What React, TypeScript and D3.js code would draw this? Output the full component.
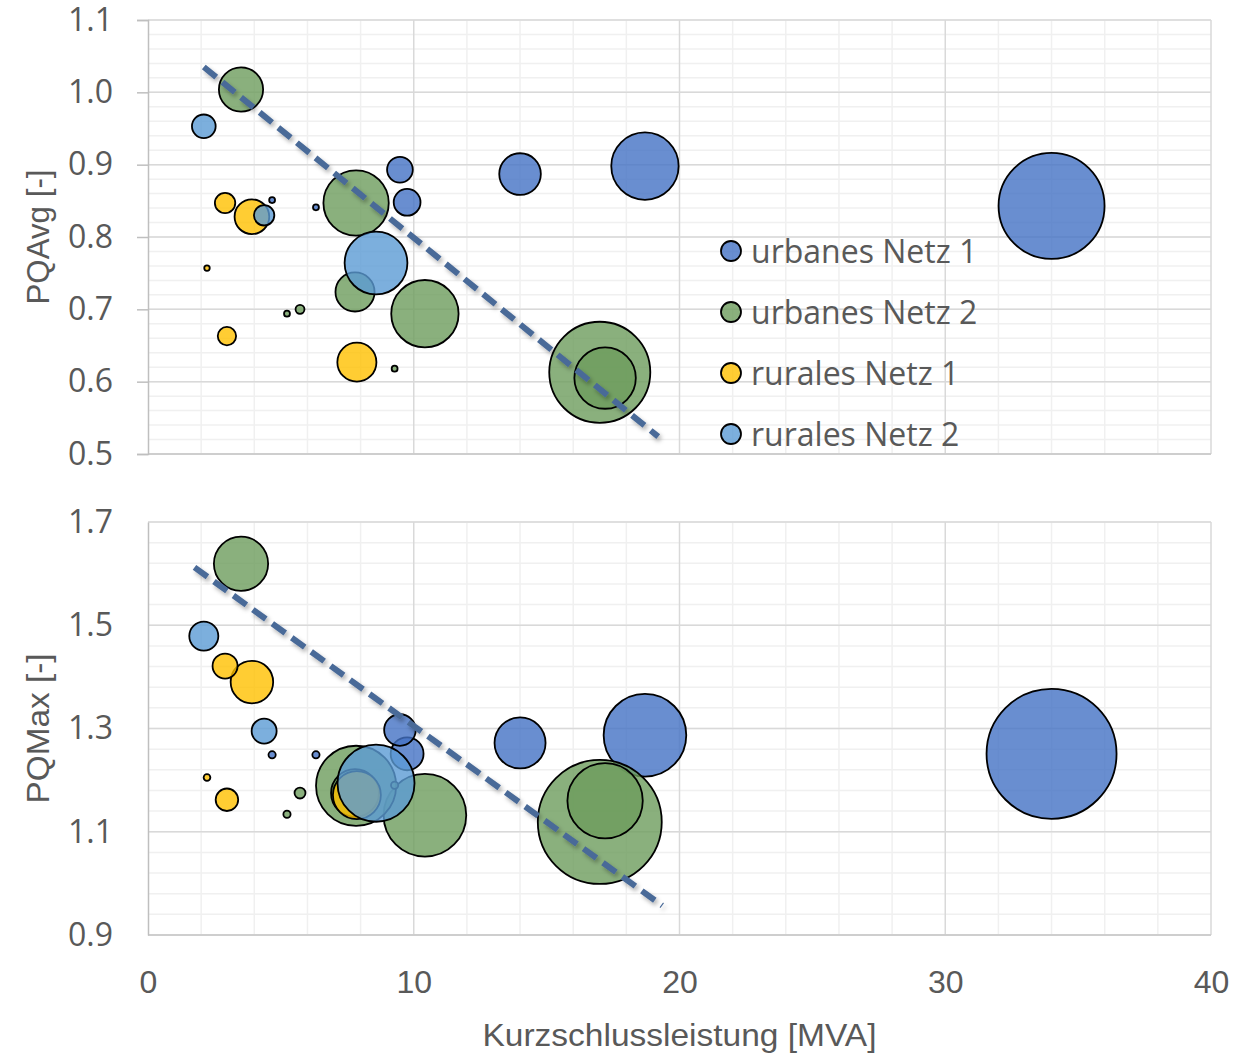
import React, { useEffect, useRef } from 'react';
import * as d3 from 'd3';

// Kurzschlussleistung [MVA] pro Messpunkt, Blasengröße relativ (max = 100)
const urban1X = [34.0, 18.7, 14.0, 9.48, 9.75, 4.67, 6.32];
const urban1Size = [100, 40.4, 15.4, 5.9, 6.4, 0.31, 0.31];
const urban1Avg = [0.843, 0.898, 0.887, 0.893, 0.848, 0.851, 0.841];
const urban1Max = [1.251, 1.287, 1.272, 1.297, 1.251, 1.249, 1.249];

const urban2X = [3.5, 7.83, 7.79, 10.42, 17.0, 17.2, 5.72, 5.23, 9.28];
const urban2Size = [17.4, 38, 13.6, 40.4, 90.9, 33.6, 0.71, 0.31, 0.31];
const urban2Avg = [1.004, 0.847, 0.724, 0.694, 0.613, 0.605, 0.700, 0.694, 0.618];
const urban2Max = [1.619, 1.189, 1.175, 1.132, 1.119, 1.160, 1.175, 1.134, 1.19];

const rural1X = [2.9, 3.91, 2.97, 7.86, 2.22];
const rural1Size = [3.7, 10.7, 3.0, 13.6, 0.27];
const rural1Avg = [0.847, 0.828, 0.663, 0.627, 0.757];
const rural1Max = [1.421, 1.390, 1.162, 1.171, 1.205];

const rural2X = [2.1, 4.37, 8.58];
const rural2Size = [5.0, 3.7, 35.1];
const rural2Avg = [0.953, 0.830, 0.764];
const rural2Max = [1.479, 1.295, 1.194];

const seriesNames = ['urbanes Netz 1', 'urbanes Netz 2', 'rurales Netz 1', 'rurales Netz 2'];

// lineare Trendlinien (Anfang, Ende)
const trendAvg = [[2.1, 1.035], [19.2, 0.524]];
const trendMax = [[1.75, 1.612], [19.35, 0.957]];

const xTicks = [0, 10, 20, 30, 40];
const avgTicks = [0.5, 0.6, 0.7, 0.8, 0.9, 1.0, 1.1];
const maxTicks = [0.9, 1.1, 1.3, 1.5, 1.7];

const colors = ['#4472C4', '#6D9C5C', '#FFC000', '#5B9BD5'];
const textColor = '#595959';

const W = 1240;
const H = 1055;

const App = () => {
    const ref = useRef(null);

    useEffect(() => {
        const svg = d3.select(ref.current);
        svg.selectAll('*').remove();

        const x = d3.scaleLinear().domain([0, 40]).range([148, 1211]);

        const defs = svg.append('defs');
        defs.append('filter')
            .attr('id', 'shadow')
            .attr('filterUnits', 'userSpaceOnUse')
            .attr('x', 0).attr('y', 0).attr('width', W).attr('height', H)
            .append('feDropShadow')
            .attr('dx', 2).attr('dy', 3).attr('stdDeviation', 2)
            .attr('flood-color', '#000').attr('flood-opacity', 0.3);

        const allSeries = [
            { x: urban1X, size: urban1Size, avg: urban1Avg, max: urban1Max },
            { x: urban2X, size: urban2Size, avg: urban2Avg, max: urban2Max },
            { x: rural1X, size: rural1Size, avg: rural1Avg, max: rural1Max },
            { x: rural2X, size: rural2Size, avg: rural2Avg, max: rural2Max },
        ];

        const panels = [
            { key: 'avg', top: 20, bottom: 454, domain: [0.5, 1.1], ticks: avgTicks, minor: 0.02, maxR: 53, trend: trendAvg, title: 'PQAvg [-]', titleLen: 135, tickMarks: true },
            { key: 'max', top: 522, bottom: 935, domain: [0.9, 1.7], ticks: maxTicks, minor: 0.04, maxR: 65, trend: trendMax, title: 'PQMax [-]', titleLen: 150, tickMarks: false },
        ];

        panels.forEach((p, pi) => {
            const y = d3.scaleLinear().domain(p.domain).range([p.bottom, p.top]);
            const r = d3.scaleSqrt().domain([0, 100]).range([0, p.maxR]);
            const g = svg.append('g');

            // Nebengitter
            const nY = Math.round((p.domain[1] - p.domain[0]) / p.minor);
            const minorY = d3.range(nY + 1).map(i => p.domain[0] + i * p.minor);
            const minorX = d3.range(21).map(i => i * 2).filter(v => v % 10 !== 0);
            g.append('g').selectAll('line').data(minorY).join('line')
                .attr('x1', x(0)).attr('x2', x(40))
                .attr('y1', d => y(d)).attr('y2', d => y(d))
                .attr('stroke', '#F0F0F0').attr('stroke-width', 1.5);
            g.append('g').selectAll('line').data(minorX).join('line')
                .attr('x1', d => x(d)).attr('x2', d => x(d))
                .attr('y1', p.top).attr('y2', p.bottom)
                .attr('stroke', '#F0F0F0').attr('stroke-width', 1.5);

            // Hauptgitter
            g.append('g').selectAll('line').data(p.ticks).join('line')
                .attr('x1', x(0)).attr('x2', x(40))
                .attr('y1', d => y(d)).attr('y2', d => y(d))
                .attr('stroke', '#D9D9D9').attr('stroke-width', 1.5);
            g.append('g').selectAll('line').data(xTicks.slice(1)).join('line')
                .attr('x1', d => x(d)).attr('x2', d => x(d))
                .attr('y1', p.top).attr('y2', p.bottom)
                .attr('stroke', '#D9D9D9').attr('stroke-width', 1.5);

            // x-Achsenlinie
            g.append('line')
                .attr('x1', x(0)).attr('x2', x(40))
                .attr('y1', p.bottom).attr('y2', p.bottom)
                .attr('stroke', '#C8C8C8').attr('stroke-width', 1.5);

            // y-Achse
            const yAxis = d3.axisLeft(y)
                .tickValues(p.ticks)
                .tickFormat(d3.format('.1f'))
                .tickSize(p.tickMarks ? 11 : 0)
                .tickPadding(p.tickMarks ? 24 : 35);
            const ya = g.append('g').attr('transform', `translate(${x(0)},0)`).call(yAxis);
            ya.select('.domain').attr('stroke', '#BFBFBF').attr('stroke-width', 1.5);
            ya.selectAll('.tick line').attr('stroke', '#BFBFBF').attr('stroke-width', 1.5);
            ya.selectAll('.tick text')
                .attr('fill', textColor)
                .attr('font-family', '"Open Sans", sans-serif')
                .attr('font-size', 32);

            // y-Titel
            svg.append('text')
                .attr('transform', `translate(49,${(p.top + p.bottom) / 2}) rotate(-90)`)
                .attr('text-anchor', 'middle')
                .attr('fill', textColor)
                .attr('font-family', '"Liberation Sans", sans-serif')
                .attr('font-size', 31)
                .attr('textLength', p.titleLen)
                .attr('lengthAdjust', 'spacingAndGlyphs')
                .text(p.title);

            // Blasen
            allSeries.forEach((s, si) => {
                const pts = s.x.map((v, i) => ({ x: v, y: s[p.key][i], size: s.size[i] }))
                    .sort((a, b) => b.size - a.size);
                g.append('g').selectAll('circle').data(pts).join('circle')
                    .attr('cx', d => x(d.x))
                    .attr('cy', d => y(d.y))
                    .attr('r', d => r(d.size))
                    .attr('fill', colors[si])
                    .attr('fill-opacity', 0.8)
                    .attr('stroke', '#000')
                    .attr('stroke-width', 1.8);
            });

            // Trendlinie
            g.append('path')
                .attr('d', d3.line().x(d => x(d[0])).y(d => y(d[1]))(p.trend))
                .attr('fill', 'none')
                .attr('stroke', '#4A6A98')
                .attr('stroke-width', 6)
                .attr('stroke-dasharray', '16 8')
                .attr('filter', 'url(#shadow)');

            if (pi === 0) {
                // Legende
                const lg = svg.append('g');
                seriesNames.forEach((name, i) => {
                    const cy = 251 + i * 61;
                    lg.append('circle')
                        .attr('cx', 731).attr('cy', cy).attr('r', 10)
                        .attr('fill', colors[i]).attr('fill-opacity', 0.8)
                        .attr('stroke', '#000').attr('stroke-width', 1.8);
                    lg.append('text')
                        .attr('x', 751).attr('y', cy)
                        .attr('dy', '0.36em')
                        .attr('fill', textColor)
                        .attr('font-family', '"Open Sans", sans-serif')
                        .attr('font-size', 32)
                        .text(name);
                });
            } else {
                // x-Achse
                const xAxis = d3.axisBottom(x).tickValues(xTicks).tickSize(0).tickPadding(35);
                const xa = svg.append('g').attr('transform', `translate(0,${p.bottom})`).call(xAxis);
                xa.select('.domain').remove();
                xa.selectAll('.tick text')
                    .attr('fill', textColor)
                    .attr('font-family', '"Liberation Sans", sans-serif')
                    .attr('font-size', 32);

                svg.append('text')
                    .attr('x', (x(0) + x(40)) / 2)
                    .attr('y', 1046)
                    .attr('text-anchor', 'middle')
                    .attr('fill', textColor)
                    .attr('font-family', '"Liberation Sans", sans-serif')
                    .attr('font-size', 32)
                    .attr('textLength', 394)
                    .attr('lengthAdjust', 'spacingAndGlyphs')
                    .text('Kurzschlussleistung [MVA]');
            }
        });
    }, []);

    return (
        <div style={{ position: 'absolute', left: 0, top: 0 }}>
            <svg ref={ref} width={W} height={H} style={{ display: 'block', background: '#fff' }}></svg>
        </div>
    );
};

export default App;
